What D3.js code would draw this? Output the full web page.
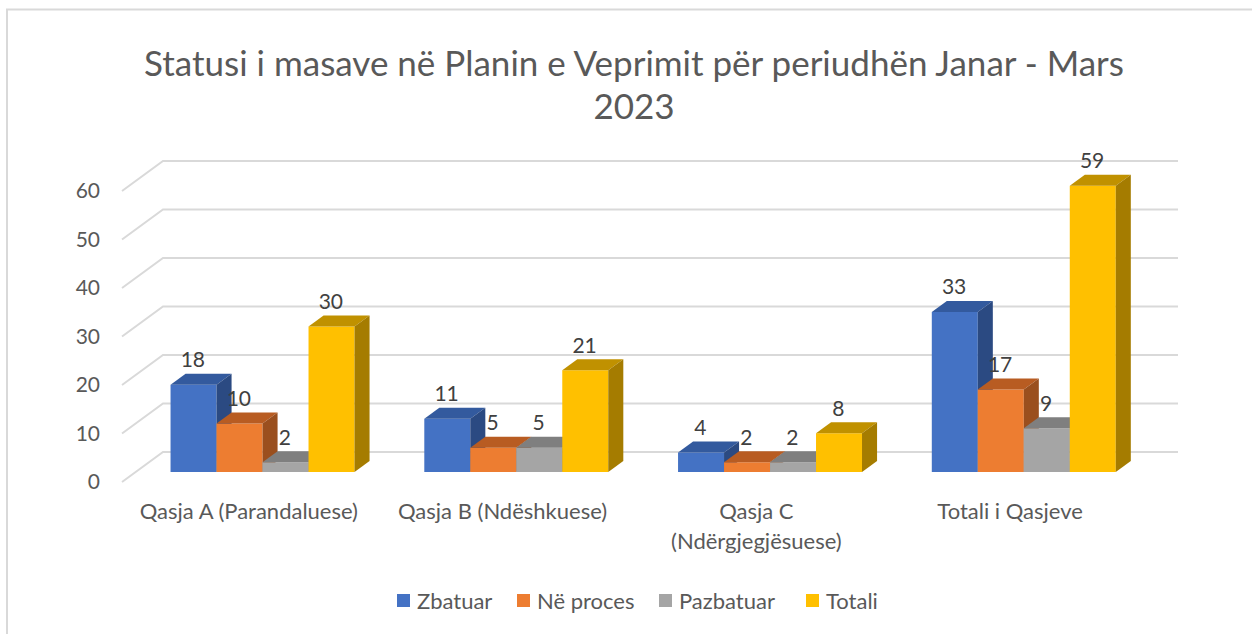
<!DOCTYPE html>
<html lang="sq">
<head>
	<meta charset="UTF-8"/>
	<title>Statusi i masave</title>
	<script src="https://d3js.org/d3.v7.min.js"></script>
	<style>
		body { margin: 0; background: #fff; }
		text { font-family: Lato, "Open Sans", sans-serif; }
	</style>
</head>
<body>
	<script>
        // data
        var categories = ["Qasja A (Parandaluese)", "Qasja B (Ndëshkuese)", "Qasja C (Ndërgjegjësuese)", "Totali i Qasjeve"];
        var categoryLines = [["Qasja A (Parandaluese)"], ["Qasja B (Ndëshkuese)"], ["Qasja C", "(Ndërgjegjësuese)"], ["Totali i Qasjeve"]];
        var seriesNames = ["Zbatuar", "Në proces", "Pazbatuar", "Totali"];
        var zbatuar   = [18, 11, 4, 33];
        var neProces  = [10, 5, 2, 17];
        var pazbatuar = [2, 5, 2, 9];
        var totali    = [30, 21, 8, 59];
        var yTicks = [0, 10, 20, 30, 40, 50, 60];

        var seriesValues = [zbatuar, neProces, pazbatuar, totali];

        var w = 1252;
        var h = 634;

        // colours: front, top, side
        var colors = [
            ["#4472c4", "#335a9e", "#2b4a82"],
            ["#ed7d31", "#b85c22", "#9a4f1e"],
            ["#a5a5a5", "#7f7f7f", "#6b6b6b"],
            ["#ffc000", "#c09100", "#a57c00"]
        ];

        // depth of the 3d box (front plane -> back wall)
        var DX = 41, DY = -30;
        var z0 = 0.333, z1 = 0.70;

        var xScale = d3.scaleBand()
                    .domain(categories)
                    .range([122, 1137]);

        var groupW = xScale.bandwidth() * 0.725;

        var xInner = d3.scaleBand()
                    .domain(seriesNames)
                    .range([0, groupW]);

        var yScale = d3.scaleLinear()
                    .domain([0, 60])
                    .range([482, 191]);

        function P(xf, v, z) {
            return [xf + z * DX, yScale(v) + z * DY];
        }

        var svg = d3.select("body")
                    .append("svg")
                    .attr("width", w)
                    .attr("height", h);

        svg.append("rect")
            .attr("width", w)
            .attr("height", h)
            .attr("fill", "#fff");

        // chart border (only left and top visible)
        svg.append("path")
            .attr("d", "M7," + (h + 5) + " L7,9.5 L" + (w + 5) + ",9.5")
            .attr("fill", "none")
            .attr("stroke", "#d9d9d9")
            .attr("stroke-width", 2);

        // title
        var title = svg.append("text")
            .attr("text-anchor", "middle")
            .attr("fill", "#595959")
            .style("font-size", "35px");
        title.append("tspan").attr("x", 634).attr("y", 76).text("Statusi i masave në Planin e Veprimit për periudhën Janar - Mars");
        title.append("tspan").attr("x", 634).attr("y", 119).text("2023");

        // gridlines: back wall + left wall diagonal
        var grid = svg.append("g")
            .attr("stroke", "#d9d9d9")
            .attr("stroke-width", 2)
            .attr("fill", "none");

        grid.selectAll("path")
            .data(yTicks)
            .enter()
            .append("path")
            .attr("d", function(d) {
                var a = P(122, d, 0), b = P(122, d, 1), c = P(1137, d, 1);
                return "M" + a + " L" + b + " L" + c;
            });

        // y tick labels
        svg.append("g")
            .selectAll("text")
            .data(yTicks)
            .enter()
            .append("text")
            .attr("x", 100)
            .attr("y", function(d) { return yScale(d); })
            .attr("dy", "0.35em")
            .attr("text-anchor", "end")
            .attr("fill", "#595959")
            .style("font-size", "21px")
            .text(function(d) { return d; });

        // bars
        var bars = [];
        categories.forEach(function(c, ci) {
            seriesNames.forEach(function(s, si) {
                bars.push({c: c, s: s, si: si, v: seriesValues[si][ci]});
            });
        });

        var groupOff = (xScale.bandwidth() - groupW) / 2;

        function barX(d) {
            return xScale(d.c) + groupOff + xInner(d.s);
        }

        var bw = xInner.bandwidth();

        var barG = svg.append("g")
            .selectAll("g")
            .data(bars)
            .enter()
            .append("g");

        barG.append("path")
            .attr("fill", function(d) { return colors[d.si][0]; })
            .attr("d", function(d) {
                var x = barX(d);
                return "M" + P(x, d.v, z0) + " L" + P(x + bw, d.v, z0) + " L" + P(x + bw, 0, z0) + " L" + P(x, 0, z0) + "Z";
            });

        barG.append("path")
            .attr("fill", function(d) { return colors[d.si][1]; })
            .attr("d", function(d) {
                var x = barX(d);
                return "M" + P(x, d.v, z0) + " L" + P(x + bw, d.v, z0) + " L" + P(x + bw, d.v, z1) + " L" + P(x, d.v, z1) + "Z";
            });

        barG.append("path")
            .attr("fill", function(d) { return colors[d.si][2]; })
            .attr("d", function(d) {
                var x = barX(d);
                return "M" + P(x + bw, d.v, z0) + " L" + P(x + bw, d.v, z1) + " L" + P(x + bw, 0, z1) + " L" + P(x + bw, 0, z0) + "Z";
            });

        // data labels
        svg.append("g")
            .selectAll("text")
            .data(bars)
            .enter()
            .append("text")
            .attr("x", function(d) { return barX(d) + bw / 2 + 13; })
            .attr("y", function(d) { return P(0, d.v, z1)[1] - 14; })
            .attr("dy", "0.35em")
            .attr("text-anchor", "middle")
            .attr("fill", "#404040")
            .style("font-size", "21px")
            .text(function(d) { return d.v; });

        // category labels
        var catG = svg.append("g")
            .selectAll("text")
            .data(categories)
            .enter()
            .append("text")
            .attr("text-anchor", "middle")
            .attr("fill", "#595959")
            .style("font-size", "22px");

        catG.selectAll("tspan")
            .data(function(d, i) {
                return categoryLines[i].map(function(t) { return {t: t, c: d}; });
            })
            .enter()
            .append("tspan")
            .attr("x", function(d) { return xScale(d.c) + xScale.bandwidth() / 2; })
            .attr("y", function(d, i) { return 519 + i * 30; })
            .text(function(d) { return d.t; });

        // legend
        var legendX = [397, 517, 659, 806];
        var legend = svg.append("g")
            .selectAll("g")
            .data(seriesNames)
            .enter()
            .append("g")
            .attr("transform", function(d, i) { return "translate(" + legendX[i] + ",594)"; });

        legend.append("rect")
            .attr("width", 13)
            .attr("height", 13)
            .attr("fill", function(d, i) { return colors[i][0]; });

        legend.append("text")
            .attr("x", 20)
            .attr("y", 7)
            .attr("dy", "0.35em")
            .attr("fill", "#595959")
            .style("font-size", "22px")
            .text(function(d) { return d; });
	</script>
</body>
</html>
